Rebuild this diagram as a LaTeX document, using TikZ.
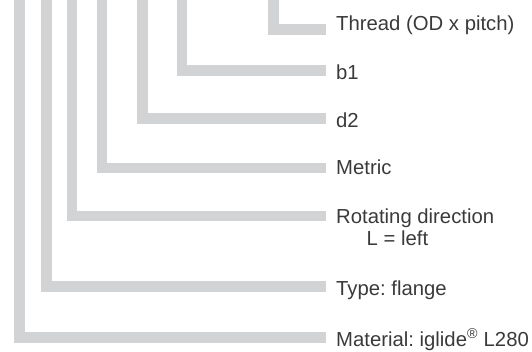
\documentclass[tikz,border=0pt]{standalone}
\usepackage{fontspec}
\setmainfont{Liberation Sans}
\frenchspacing
\definecolor{barfill}{HTML}{D1D3D4}
\definecolor{labeltext}{HTML}{3A3A3A}
\tikzset{
  bar/.style={draw=barfill,line width=10.7pt,line cap=butt,line join=miter},
  lbl/.style={anchor=base west,inner sep=0pt,text=labeltext,font=\fontsize{20.3}{22.5}\selectfont}
}
\begin{document}
\begin{tikzpicture}[x=1pt,y=-1pt]
  \useasboundingbox (0,0) rectangle (532,352);
  \coordinate (thr0) at (273.3,0);
  \coordinate (thr1) at (326,29.3);
  \coordinate (bw0) at (182,0);
  \coordinate (bw1) at (326,70.7);
  \coordinate (dd0) at (142.7,0);
  \coordinate (dd1) at (326,118.7);
  \coordinate (met0) at (102,0);
  \coordinate (met1) at (326,168);
  \coordinate (rot0) at (72,0);
  \coordinate (rot1) at (326,216);
  \coordinate (typ0) at (46.7,0);
  \coordinate (typ1) at (326,286.7);
  \coordinate (mat0) at (19.2,0);
  \coordinate (mat1) at (326,337.3);
  \draw[bar] (thr0) |- (thr1);
  \draw[bar] (bw0) |- (bw1);
  \draw[bar] (dd0) |- (dd1);
  \draw[bar] (met0) |- (met1);
  \draw[bar] (rot0) |- (rot1);
  \draw[bar] (typ0) |- (typ1);
  \draw[bar] (mat0) |- (mat1);
  \node[lbl] (thr) at (336,30.5) {Thread (OD x pitch)};
  \node[lbl] (bw) at (336,79.5) {b1};
  \node[lbl] (dd) at (336,127.5) {d2};
  \node[lbl] (met) at (336,175) {Metric};
  \node[lbl,align=left] (rot) at (336,246) {Rotating direction\\\hspace*{30.5pt}L = left};
  \node[lbl] (typ) at (336,295) {Type: flange};
  \node[lbl] (mat) at (336,346) {Material: iglide\textsuperscript{®} L280};
\end{tikzpicture}
\end{document}
